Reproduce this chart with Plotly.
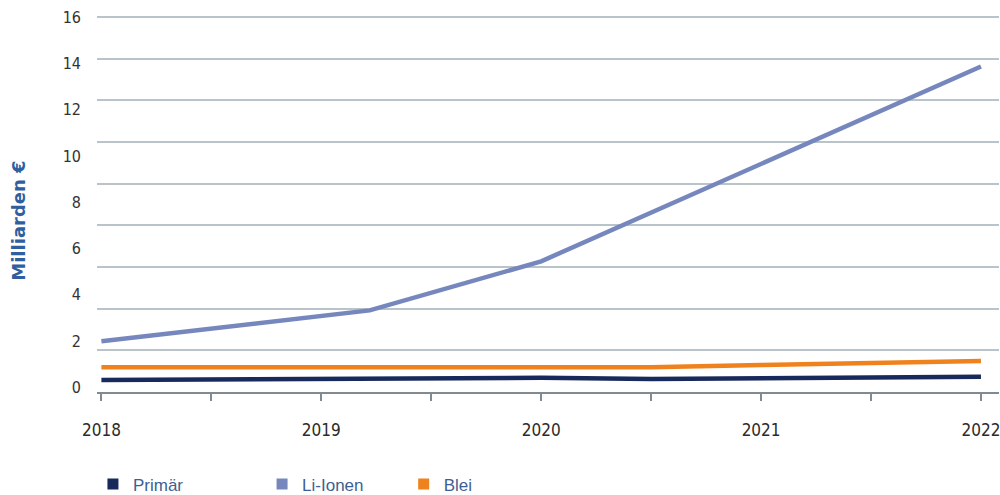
import plotly.graph_objects as go

# values (Milliarden €)
x_points = [2018, 2019.22, 2020, 2020.5, 2021, 2021.45, 2022]
primaer = [0.32, 0.39, 0.42, 0.37, 0.40, 0.42, 0.46]
li_ionen = [2.0, 3.33, 5.45, 7.55, 9.65, 11.55, 13.86]
blei = [0.875, 0.875, 0.875, 0.875, 0.97, 1.05, 1.15]

year_ticks = [2018, 2019, 2020, 2021, 2022]
year_labels = ['2018', '2019', '2020', '2021', '2022']
y_ticks = [0, 2, 4, 6, 8, 10, 12, 14, 16]

series = [
    ('Primär', primaer, '#182a5c', 'legend'),
    ('Li-Ionen', li_ionen, '#7687bd', 'legend2'),
    ('Blei', blei, '#f0821e', 'legend3'),
]

fig = go.Figure()

for name, vals, color, leg in series:
    fig.add_trace(go.Scatter(
        x=x_points, y=vals, mode='lines', name=name,
        line=dict(color=color, width=4.5),
        showlegend=False
    ))
    # square legend entry
    fig.add_trace(go.Scatter(
        x=[None], y=[None], mode='markers', name=name,
        marker=dict(symbol='square', size=11, color=color),
        legend=leg
    ))

# gridlines come from a second, label-free y axis (they don't line up with the labels)
fig.add_trace(go.Scatter(x=[None], y=[None], yaxis='y2', showlegend=False, hoverinfo='skip'))

axis_font = dict(family='Liberation Sans Narrow, DejaVu Sans Condensed, Arial Narrow', size=16, color='#333333')
legend_font = dict(family='Liberation Sans, Arial', size=17, color='#3e5f93')
leg_y = -0.2431

fig.update_layout(
    width=1000, height=495,
    margin=dict(l=97, r=1, t=12, b=102.5, autoexpand=False),
    paper_bgcolor='white', plot_bgcolor='white',
    xaxis=dict(
        range=[2017.98, 2022.082], automargin=False,
        tickvals=year_ticks, ticktext=year_labels, ticklabeloverflow='allow',
        ticks='outside', ticklen=7, tickwidth=2, tickcolor='#7f8a92',
        minor=dict(dtick=0.5, tick0=2018, ticks='outside', ticklen=7, tickwidth=2, tickcolor='#7f8a92', showgrid=False),
        showline=True, linecolor='#7f8a92', linewidth=2,
        showgrid=False, zeroline=False,
        ticklabelstandoff=15,
        tickfont=dict(family='DejaVu Sans Condensed, Liberation Sans', size=17, color='#2b2b2b')
    ),
    yaxis=dict(
        range=[-0.194, 16.216], automargin=False,
        tickvals=y_ticks,
        showgrid=False, zeroline=False, showline=False, ticks='',
        ticklabelstandoff=15,
        tickfont=axis_font
    ),
    yaxis2=dict(
        range=[0, 9.12], dtick=1, overlaying='y', side='left', automargin=False,
        showgrid=True, gridcolor='#b8c3ca', gridwidth=1.5,
        showticklabels=False, zeroline=False, showline=False, ticks=''
    ),
    legend=dict(x=-0.0045, y=leg_y, xanchor='left', yanchor='middle', font=legend_font, bgcolor='rgba(0,0,0,0)', itemwidth=30),
    legend2=dict(x=0.1830, y=leg_y, xanchor='left', yanchor='middle', font=legend_font, bgcolor='rgba(0,0,0,0)', itemwidth=30),
    legend3=dict(x=0.3400, y=leg_y, xanchor='left', yanchor='middle', font=legend_font, bgcolor='rgba(0,0,0,0)', itemwidth=30),
    annotations=[dict(
        text='Milliarden €', textangle=-90,
        xref='paper', yref='paper', x=-0.0865, y=0.4507,
        xanchor='center', yanchor='middle', showarrow=False,
        font=dict(family='DejaVu Sans, Liberation Sans', size=18, color='#2f5f9e', weight='bold')
    )]
)

# the page body has a default 8px margin; drop it so the figure sits at 0,0
fig.write_html('out.html', config={'displayModeBar': False},
               post_script="document.body.style.margin='0';")
